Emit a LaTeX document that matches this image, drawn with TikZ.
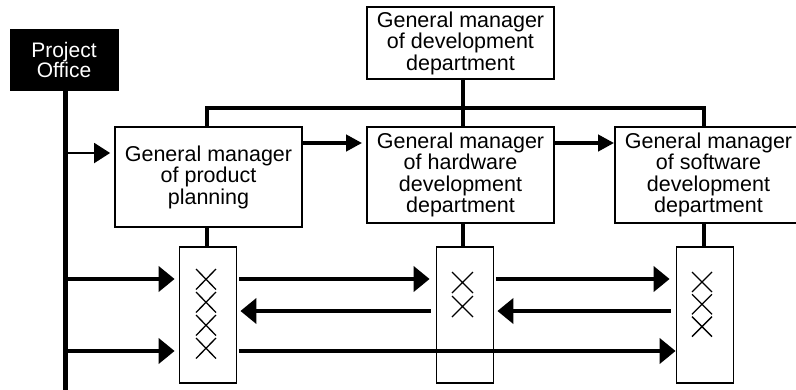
\documentclass[tikz,border=0pt]{standalone}
\usepackage{fontspec}
\setmainfont{Liberation Sans}
\usetikzlibrary{arrows.meta}
\begin{document}
\begin{tikzpicture}[x=1pt,y=-1pt,
  gm/.style={draw,line width=1.8pt,minimum width=187pt,align=center,inner sep=0pt,
    font=\fontsize{21.5}{21.5}\selectfont},
  xbox/.style={draw,line width=1.8pt,minimum width=57pt,minimum height=136pt,inner sep=0pt},
  pobox/.style={fill=black,draw=black,text=white,minimum width=108pt,minimum height=61pt,
    align=center,inner sep=0pt,font=\fontsize{21}{20}\selectfont},
  heavy/.style={line width=4pt},
  rowarr/.style={line width=4pt,-{Triangle[length=16pt,width=25pt]}},
  toparr/.style={line width=4pt,-{Triangle[length=16pt,width=16pt]}},
  thinarr/.style={line width=2pt,-{Triangle[length=16pt,width=20pt]}},
  cross/.style={line width=1.3pt},
]
\useasboundingbox (0,0) rectangle (796,389);
\fill[white] (0,0) rectangle (796,389);

% nodes
\node[pobox] (po) at (64,59.5) {Project\\Office};
\coordinate (poend) at (65.5,395);
\node[gm,minimum height=72pt] (top) at (460.5,43) {General manager\\of development\\department};
\node[gm,minimum height=100pt] (plan) at (208.5,177) {General manager\\of product\\planning};
\node[gm,minimum height=96pt] (hw) at (460.5,175) {General manager\\of hardware\\development\\department};
\node[gm,minimum height=96pt] (sw) at (708.5,175) {General manager\\of software\\development\\department};
\node[xbox] (b1) at (208,315) {};
\node[xbox] (b2) at (465,315) {};
\node[xbox] (b3) at (705,315) {};

% project office line
\draw[line width=5pt] (po.south -| 65.5,0) -- (poend);

% top tree
\coordinate (bar) at (463,108);
\draw[heavy] (top.south -| bar) -- (bar);
\draw[heavy,line join=miter] (plan.north -| 207,0) |- (bar) -| (sw.north -| 704,0);
\draw[heavy] (bar) -- (hw.north -| bar);

% stems to x boxes
\draw[heavy] (plan.south -| 207,0) -- (b1.north -| 207,0);
\draw[heavy] (hw.south -| 463,0) -- (b2.north -| 463,0);
\draw[heavy] (sw.south -| 703.5,0) -- (b3.north -| 703.5,0);

% arrows between managers
\draw[thinarr] (65.5,153) -- ([xshift=-4pt]plan.west |- 0,153);
\draw[toparr] (plan.east |- 0,143) -- ([xshift=-4pt]hw.west |- 0,143);
\draw[toparr] (hw.east |- 0,143) -- (sw.west |- 0,143);

% row arrows
\draw[rowarr] (65.5,279) -- ([xshift=-4pt]b1.west |- 0,279);
\draw[rowarr] ([xshift=2pt]b1.east |- 0,279) -- ([xshift=-6pt]b2.west |- 0,279);
\draw[rowarr] ([xshift=2pt]b2.east |- 0,279) -- ([xshift=-6pt]b3.west |- 0,279);
\draw[rowarr] ([xshift=-5pt]b3.west |- 0,311) -- ([xshift=3pt]b2.east |- 0,311);
\draw[rowarr] ([xshift=-5pt]b2.west |- 0,311) -- ([xshift=3pt]b1.east |- 0,311);
\draw[rowarr] (65.5,351) -- ([xshift=-4pt]b1.west |- 0,351);
\draw[rowarr] ([xshift=2pt]b1.east |- 0,351) -- (b3.west |- 0,351);

% crosses
\foreach \i in {0,...,3}{
  \draw[cross] (196,269+23*\i) -- (216,269+23*\i+20.5)
               (216,269+23*\i) -- (196,269+23*\i+20.5);
}
\foreach \i in {0,1}{
  \draw[cross] (452,272+24*\i) -- (473,272+24*\i+21)
               (473,272+24*\i) -- (452,272+24*\i+21);
}
\foreach \i in {0,1,2}{
  \draw[cross] (692,272+22.3*\i) -- (712,272+22.3*\i+20)
               (712,272+22.3*\i) -- (692,272+22.3*\i+20);
}
\end{tikzpicture}
\end{document}
